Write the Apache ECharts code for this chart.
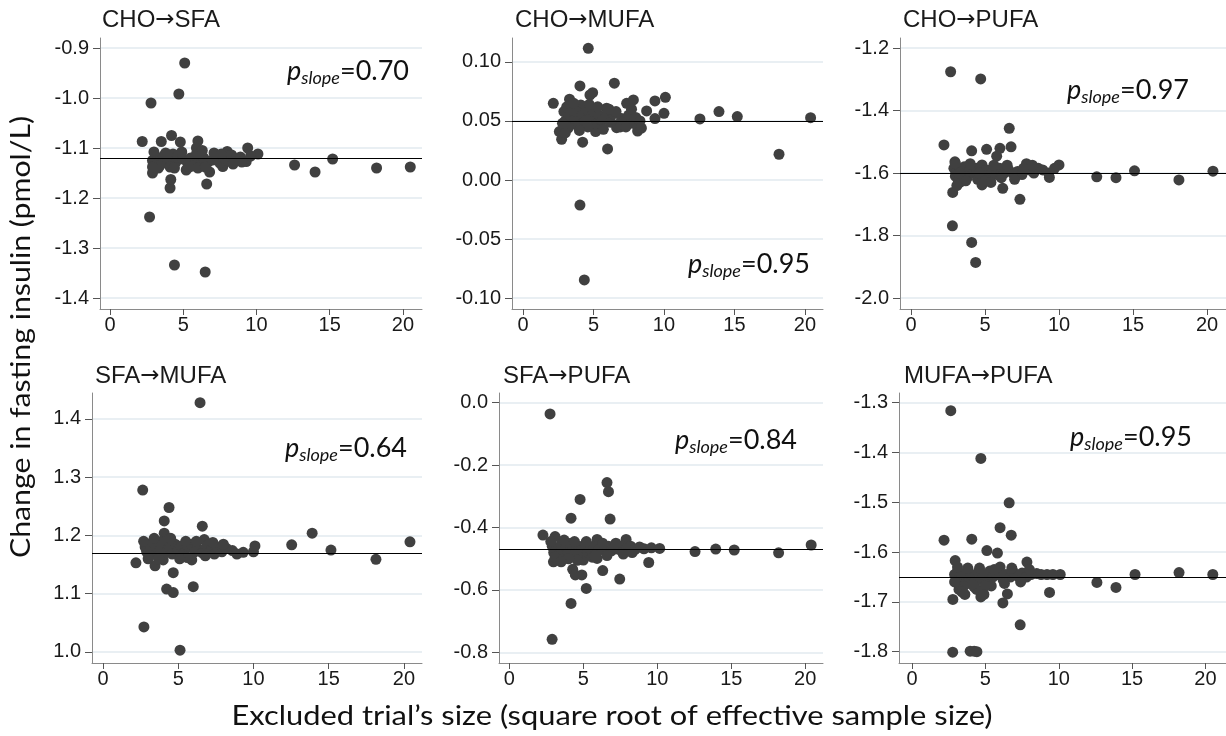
<!DOCTYPE html>
<html>
<head>
<meta charset="utf-8">
<script src="https://cdn.jsdelivr.net/npm/echarts@6/dist/echarts.min.js"></script>
<style>html,body{margin:0;padding:0;background:#fff;}#c{width:1226px;height:736px;}</style>
</head>
<body>
<div id="c"></div>
<script>
// ---------- DATA ----------
const titleFrom = ['CHO', 'CHO', 'CHO', 'SFA', 'SFA', 'MUFA'];
const titleTo = ['SFA', 'MUFA', 'PUFA', 'MUFA', 'PUFA', 'PUFA'];
const pSlope = ['0.70', '0.95', '0.97', '0.64', '0.84', '0.95'];
const refLines = [-1.124, 0.0509, -1.596, 1.173, -0.472, -1.6466];
const xTicks = [0, 5, 10, 15, 20];
const yTicks1 = [-1.4, -1.3, -1.2, -1.1, -1.0, -0.9];
const yTicks2 = [-0.10, -0.05, 0.00, 0.05, 0.10];
const yTicks3 = [-2.0, -1.8, -1.6, -1.4, -1.2];
const yTicks4 = [1.0, 1.1, 1.2, 1.3, 1.4];
const yTicks5 = [-0.8, -0.6, -0.4, -0.2, 0.0];
const yTicks6 = [-1.8, -1.7, -1.6, -1.5, -1.4, -1.3];
const yTitle = 'Change in fasting insulin (pmol/L)';
const xTitle = 'Excluded trial\u2019s size (square root of effective sample size)';

const pts1 = [[5.1,-0.93],[4.7,-0.992],[2.8,-1.01],[2.2,-1.087],[3.5,-1.087],[4.2,-1.075],[4.8,-1.088],[6.0,-1.086],[5.9,-1.10],[9.4,-1.10],[10.1,-1.112],[8.0,-1.107],[12.6,-1.134],[14.0,-1.148],[15.2,-1.122],[18.2,-1.14],[20.5,-1.138],[2.7,-1.238],[4.4,-1.334],[6.5,-1.348],[4.1,-1.18],[4.15,-1.163],[6.6,-1.172],[6.8,-1.148],[2.9,-1.15],[5.2,-1.144],[7.7,-1.137],[9.3,-1.127],
  [2.9,-1.125],[3.1,-1.118],[3.2,-1.132],[3.4,-1.12],[3.6,-1.128],[3.7,-1.115],[3.9,-1.13],[4.0,-1.12],[4.3,-1.112],[4.5,-1.128],[4.6,-1.118],[5.0,-1.122],[5.3,-1.13],[5.5,-1.12],[5.8,-1.125],[6.1,-1.115],[6.2,-1.132],[6.4,-1.12],[6.7,-1.128],[7.0,-1.124],[7.3,-1.118],[7.5,-1.13],[7.8,-1.12],[8.1,-1.126],[8.3,-1.114],[8.6,-1.122],[8.9,-1.118],[9.6,-1.116],[3.3,-1.14],[4.1,-1.138],[5.6,-1.136],[6.0,-1.14],
  [3.0,-1.108],[3.4,-1.135],[3.8,-1.11],[4.4,-1.14],[4.9,-1.108],[5.4,-1.138],[5.9,-1.112],[6.5,-1.138],[7.1,-1.11],[7.6,-1.112],[8.4,-1.132],[9.0,-1.128],[2.9,-1.138],[6.3,-1.105]];
const pts2 = [[4.63,0.1116],[4.04,0.0797],[4.94,0.074],[4.75,0.072],[6.48,0.082],[2.15,0.065],[7.35,0.065],[7.83,0.0678],[9.36,0.067],[10.1,0.070],[10.0,0.0565],[9.36,0.052],[8.77,0.0585],[12.55,0.0517],[13.9,0.058],[15.2,0.0537],[18.16,0.0218],[20.4,0.0528],[2.74,0.0345],[2.58,0.041],[4.23,0.032],[5.15,0.041],[6.0,0.0263],[6.64,0.0443],[8.13,0.0415],[4.04,-0.0212],[4.35,-0.0847],[3.3,0.0684],[4.1,0.0636],[5.93,0.0608],
  [2.9,0.058],[3.0,0.05],[3.1,0.062],[3.3,0.055],[3.4,0.047],[3.5,0.06],[3.7,0.052],[3.8,0.058],[3.9,0.046],[4.2,0.055],[4.4,0.05],[4.5,0.06],[4.8,0.053],[5.0,0.058],[5.2,0.048],[5.4,0.055],[5.6,0.05],[5.9,0.054],[6.2,0.049],[6.4,0.056],[6.7,0.047],[7.0,0.052],[7.2,0.05],[7.5,0.055],[7.8,0.048],[8.0,0.053],[8.3,0.05],[3.2,0.044],[4.6,0.045],[6.9,0.045],
  [3.0,0.04],[3.6,0.065],[4.0,0.042],[4.7,0.064],[5.3,0.062],[5.7,0.043],[6.1,0.06],[6.6,0.058],[7.3,0.045],[7.7,0.06],[8.4,0.044],[2.8,0.048]];
const pts3 = [[2.68,-1.276],[4.71,-1.299],[2.23,-1.51],[4.1,-1.529],[5.11,-1.524],[6.01,-1.521],[5.79,-1.546],[6.64,-1.457],[6.76,-1.516],[2.82,-1.662],[6.2,-1.649],[7.36,-1.684],[2.8,-1.769],[4.1,-1.822],[4.37,-1.886],[9.35,-1.614],[10.0,-1.574],[12.55,-1.612],[13.85,-1.615],[15.1,-1.593],[18.1,-1.622],[20.4,-1.594],[4.8,-1.638],
  [2.9,-1.585],[3.0,-1.61],[3.1,-1.595],[3.2,-1.625],[3.4,-1.59],[3.5,-1.605],[3.6,-1.58],[3.8,-1.615],[3.9,-1.595],[4.2,-1.6],[4.4,-1.585],[4.5,-1.62],[4.8,-1.574],[4.9,-1.605],[5.1,-1.59],[5.3,-1.615],[5.5,-1.595],[5.8,-1.605],[6.0,-1.585],[6.3,-1.6],[6.6,-1.59],[6.9,-1.602],[7.2,-1.595],[7.5,-1.605],[7.8,-1.57],[8.0,-1.59],[8.3,-1.6],[8.6,-1.585],[8.9,-1.59],[9.3,-1.6],[9.7,-1.585],[2.97,-1.564],[3.3,-1.63],
  [3.0,-1.57],[3.3,-1.6],[3.7,-1.625],[4.0,-1.57],[4.6,-1.6],[5.0,-1.625],[5.6,-1.575],[6.1,-1.615],[6.5,-1.575],[7.0,-1.62],[7.6,-1.585],[8.2,-1.575],[3.1,-1.64],[5.4,-1.63]];
const pts4 = [[6.45,1.428],[2.64,1.278],[4.39,1.248],[4.07,1.225],[4.07,1.204],[6.6,1.216],[6.73,1.193],[2.19,1.153],[3.46,1.148],[4.67,1.136],[4.23,1.108],[4.67,1.102],[6.0,1.112],[2.72,1.043],[5.12,1.003],[12.54,1.184],[13.9,1.204],[15.15,1.175],[18.14,1.159],[20.4,1.189],[10.1,1.182],[10.0,1.172],[9.32,1.171],[4.0,1.158],[5.9,1.158],
  [2.8,1.18],[2.9,1.172],[3.0,1.185],[3.2,1.176],[3.3,1.188],[3.5,1.17],[3.6,1.182],[3.8,1.175],[3.9,1.19],[4.2,1.172],[4.4,1.18],[4.6,1.168],[4.8,1.185],[5.0,1.175],[5.2,1.182],[5.4,1.17],[5.7,1.18],[5.9,1.185],[6.1,1.172],[6.3,1.178],[6.6,1.17],[6.9,1.182],[7.2,1.176],[7.4,1.168],[7.6,1.18],[7.9,1.172],[8.2,1.178],[8.6,1.174],[8.9,1.168],[3.1,1.165],[4.3,1.192],[5.6,1.162],
  [2.7,1.19],[3.4,1.195],[3.7,1.16],[4.5,1.195],[5.1,1.16],[5.5,1.19],[6.2,1.19],[6.8,1.165],[7.3,1.188],[8.0,1.185],[3.0,1.16]];
const pts5 = [[2.75,-0.036],[6.6,-0.256],[6.7,-0.285],[4.78,-0.31],[4.17,-0.37],[6.81,-0.373],[2.27,-0.424],[3.09,-0.429],[5.93,-0.438],[7.89,-0.438],[2.98,-0.51],[9.42,-0.512],[5.0,-0.504],[5.93,-0.499],[4.28,-0.534],[4.46,-0.552],[4.9,-0.552],[6.31,-0.538],[7.46,-0.565],[5.2,-0.595],[4.17,-0.643],[2.89,-0.758],[12.55,-0.477],[13.95,-0.469],[15.2,-0.472],[18.2,-0.481],[20.4,-0.456],[10.16,-0.467],
  [2.9,-0.46],[3.0,-0.48],[3.2,-0.47],[3.3,-0.49],[3.5,-0.455],[3.6,-0.475],[3.8,-0.465],[3.9,-0.485],[4.1,-0.451],[4.3,-0.47],[4.5,-0.48],[4.7,-0.46],[4.9,-0.475],[5.1,-0.465],[5.3,-0.48],[5.5,-0.47],[5.7,-0.46],[6.0,-0.475],[6.2,-0.465],[6.4,-0.47],[6.7,-0.46],[6.9,-0.475],[7.1,-0.465],[7.4,-0.47],[7.6,-0.46],[7.9,-0.468],[8.2,-0.46],[8.5,-0.47],[8.8,-0.462],[9.1,-0.468],[9.6,-0.465],[3.4,-0.5],[4.6,-0.505],[5.6,-0.495],
  [2.8,-0.445],[3.1,-0.495],[3.7,-0.44],[4.0,-0.5],[4.4,-0.445],[5.2,-0.445],[5.8,-0.49],[6.3,-0.45],[6.6,-0.49],[7.2,-0.45],[7.7,-0.485],[8.3,-0.48],[3.5,-0.51]];
const pts6 = [[2.64,-1.316],[4.69,-1.412],[6.62,-1.501],[6.0,-1.551],[6.76,-1.566],[2.18,-1.576],[4.07,-1.574],[5.1,-1.597],[5.82,-1.602],[2.94,-1.617],[7.83,-1.62],[2.78,-1.695],[4.69,-1.69],[6.5,-1.684],[6.19,-1.702],[9.37,-1.681],[7.37,-1.746],[2.77,-1.801],[3.96,-1.799],[4.23,-1.799],[4.42,-1.80],[12.6,-1.661],[13.9,-1.671],[15.2,-1.645],[18.2,-1.641],[20.5,-1.645],[10.1,-1.645],[4.23,-1.67],
  [2.9,-1.645],[3.0,-1.66],[3.1,-1.638],[3.3,-1.655],[3.4,-1.645],[3.6,-1.665],[3.7,-1.64],[3.9,-1.655],[4.0,-1.645],[4.3,-1.66],[4.5,-1.64],[4.7,-1.655],[4.9,-1.645],[5.1,-1.66],[5.3,-1.638],[5.5,-1.65],[5.8,-1.645],[6.0,-1.63],[6.2,-1.655],[6.4,-1.645],[6.7,-1.65],[6.9,-1.64],[7.2,-1.648],[7.5,-1.642],[7.8,-1.65],[8.1,-1.645],[8.5,-1.643],[8.8,-1.645],[9.2,-1.645],[9.6,-1.645],[3.5,-1.669],[4.4,-1.675],[5.4,-1.668],[3.2,-1.675],
  [2.9,-1.66],[3.1,-1.63],[3.4,-1.68],[3.8,-1.632],[4.1,-1.665],[4.6,-1.632],[5.0,-1.668],[5.6,-1.635],[6.3,-1.663],[6.8,-1.632],[7.4,-1.66],[8.0,-1.635],[3.6,-1.685],[4.9,-1.685]];

const allPts = [pts1, pts2, pts3, pts4, pts5, pts6];
const allYTicks = [yTicks1, yTicks2, yTicks3, yTicks4, yTicks5, yTicks6];

// ---------- LAYOUT ----------
const layout = [
  {left:100, top:38,  width:322, height:271, xMin:-0.683, xMax:21.3,  yMin:-1.422, yMax:-0.88,  dec:1, tx:102, ty:7,   px:287,  py:71},
  {left:512, top:38,  width:311, height:271, xMin:-0.78,  xMax:21.28, yMin:-0.1093,yMax:0.1203, dec:2, tx:515, ty:7,   px:688,  py:264},
  {left:900, top:38,  width:326, height:271, xMin:-0.74,  xMax:21.28, yMin:-2.035, yMax:-1.168, dec:1, tx:903, ty:7,   px:1067, py:90},
  {left:92,  top:393, width:330, height:270, xMin:-0.73,  xMax:21.2,  yMin:0.981,  yMax:1.4446, dec:1, tx:95,  ty:363, px:285,  py:448},
  {left:499, top:393, width:324, height:270, xMin:-0.70,  xMax:21.2,  yMin:-0.834, yMax:0.031,  dec:1, tx:503, ty:363, px:675,  py:440},
  {left:899, top:393, width:327, height:270, xMin:-0.89,  xMax:21.4,  yMin:-1.8227,yMax:-1.2805,dec:1, tx:904, ty:363, px:1070, py:437}
];

const tickFont = 'Liberation Sans, Arial, sans-serif';
const calFont = 'Lato, sans-serif';

function fitScale(text, size, target) {
  const c = document.createElement('canvas').getContext('2d');
  c.font = size + 'px Lato';
  return target / c.measureText(text).width;
}

const grid = [], xAxis = [], yAxis = [], series = [], title = [], graphic = [];
layout.forEach((L, i) => {
  grid.push({left:L.left, top:L.top, width:L.width, height:L.height, containLabel:false});
  xAxis.push({
    type:'value', gridIndex:i, min:L.xMin, max:L.xMax,
    axisLine:{show:true, onZero:false, lineStyle:{color:'#8a8a8a', width:1}},
    axisTick:{show:true, length:6, customValues:xTicks, lineStyle:{color:'#555'}},
    axisLabel:{customValues:xTicks, fontSize:20, fontFamily:tickFont, color:'#1a1a1a', margin:6},
    splitLine:{show:false}
  });
  const yt = allYTicks[i];
  yAxis.push({
    type:'value', gridIndex:i, min:L.yMin, max:L.yMax,
    axisLine:{show:true, onZero:false, lineStyle:{color:'#8a8a8a', width:1}},
    axisTick:{show:true, length:7, customValues:yt, lineStyle:{color:'#555'}},
    axisLabel:{customValues:yt, fontSize:20, fontFamily:tickFont, color:'#1a1a1a', margin:11,
      formatter: v => Number(v).toFixed(L.dec)},
    splitLine:{show:true, lineStyle:{color:'#e9eff3', width:2}}
  });
  series.push({
    type:'scatter', xAxisIndex:i, yAxisIndex:i, data:allPts[i],
    symbol:'circle', symbolSize:11, itemStyle:{color:'#404040', opacity:1},
    markLine:{silent:true, symbol:'none', animation:false, label:{show:false},
      lineStyle:{color:'#000', width:1, type:'solid'}, data:[{yAxis:refLines[i]}]}
  });
  title.push({text:'{t|' + titleFrom[i] + '}{a|\u2192}{t|' + titleTo[i] + '}', left:L.tx, top:L.ty, padding:0,
    textStyle:{fontSize:24, fontWeight:'normal', fontFamily:tickFont, color:'#1a1a1a',
      rich:{
        t:{fontSize:24, fontFamily:tickFont, color:'#1a1a1a', lineHeight:26},
        a:{fontSize:23, fontFamily:'DejaVu Sans', fontWeight:'normal', color:'#1a1a1a', lineHeight:26}
      }}});
  graphic.push({type:'text', x:L.px, y:L.py, silent:true,
    style:{text:'{p|p}{s|slope}{v|=' + pSlope[i] + '}', align:'left', verticalAlign:'middle',
      rich:{
        p:{fontSize:27, fontStyle:'italic', fontFamily:calFont, fill:'#111', lineHeight:32},
        s:{fontSize:18, fontStyle:'italic', fontFamily:calFont, fill:'#111', lineHeight:15, verticalAlign:'bottom'},
        v:{fontSize:27, fontFamily:calFont, fill:'#111', lineHeight:32}
      }}});
});

graphic.push({type:'text', x:22, y:337, rotation:Math.PI/2, scaleX:fitScale(yTitle, 26, 442), silent:true,
  style:{text:yTitle, fontSize:26, fontFamily:calFont, fill:'#111', align:'center', verticalAlign:'middle'}});
graphic.push({type:'text', x:612, y:717, scaleX:fitScale(xTitle, 26, 761), silent:true,
  style:{text:xTitle, fontSize:26, fontFamily:calFont, fill:'#111', align:'center', verticalAlign:'middle'}});

const chart = echarts.init(document.getElementById('c'), null, {renderer:'canvas'});
chart.setOption({animation:false, backgroundColor:'#fff', title, grid, xAxis, yAxis, series, graphic});
</script>
</body>
</html>
